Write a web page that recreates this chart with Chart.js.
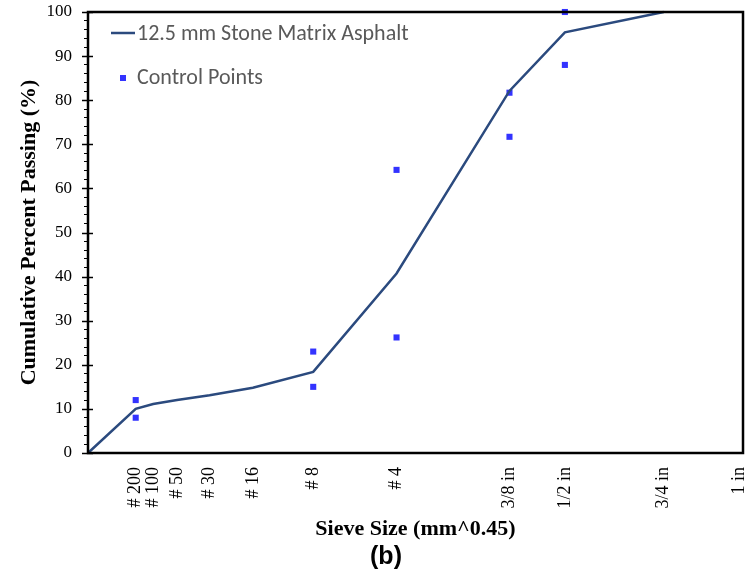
<!DOCTYPE html>
<html lang="en">
<head>
    <meta charset="UTF-8">
    <title>Gradation Chart (b)</title>
    <script src="https://cdn.jsdelivr.net/npm/chart.js"></script>
    <style>
        html, body {
            margin: 0;
            padding: 0;
            background: #ffffff;
        }
        #gradationChart {
            display: block;
        }
    </style>
</head>
<body>
    <canvas id="gradationChart" width="748" height="584"></canvas>

    <script>
        // Sieve sizes (mm) and their tick labels
        const sieveMm = [0.075, 0.15, 0.3, 0.6, 1.18, 2.36, 4.75, 9.5, 12.5, 19, 25];
        const sieveLabels = ['# 200', '# 100', '# 50', '# 30', '# 16', '# 8', '# 4', '3/8 in', '1/2 in', '3/4 in', '1 in'];

        // 12.5 mm SMA gradation
        const gradationMm = [0, 0.075, 0.15, 0.3, 0.6, 1.18, 2.36, 4.75, 9.5, 12.5, 19];
        const gradationPassing = [0, 10.0, 11.1, 12.0, 13.1, 14.8, 18.4, 40.7, 82.1, 95.4, 100];

        // Control points (upper / lower limits)
        const controlMm = [0.075, 0.075, 2.36, 2.36, 4.75, 4.75, 9.5, 9.5, 12.5, 12.5];
        const controlPassing = [12, 8, 23, 15, 64.2, 26.2, 81.7, 71.7, 100, 88];

        const power = 0.45;
        const toX = mm => Math.pow(mm, power);

        const serif = "'Liberation Serif', 'Times New Roman', serif";
        const legendFont = "Carlito, 'Open Sans', 'Noto Sans', sans-serif";

        // Plot box, major ticks that cross the axis, legend and caption
        const extrasPlugin = {
            id: 'extras',
            afterDraw(chart) {
                const ctx = chart.ctx;
                const area = chart.chartArea;
                const yScale = chart.scales.y;
                ctx.save();

                // major y ticks crossing the axis line
                ctx.strokeStyle = '#000';
                ctx.lineWidth = 1.5;
                for (let v = 0; v <= 100; v += 10) {
                    const py = Math.round(yScale.getPixelForValue(v)) + 0.5;
                    ctx.beginPath();
                    ctx.moveTo(area.left - 6, py);
                    ctx.lineTo(area.left + 5, py);
                    ctx.stroke();
                }

                // plot box
                ctx.lineWidth = 2.5;
                ctx.strokeRect(area.left, area.top, area.right - area.left, area.bottom - area.top);

                // legend
                const lineDs = chart.data.datasets[0];
                const ptDs = chart.data.datasets[1];
                ctx.strokeStyle = lineDs.borderColor;
                ctx.lineWidth = lineDs.borderWidth;
                ctx.beginPath();
                ctx.moveTo(111, 33);
                ctx.lineTo(135, 33);
                ctx.stroke();
                ctx.fillStyle = ptDs.backgroundColor;
                ctx.fillRect(120, 75, 6, 6);

                ctx.fillStyle = '#595959';
                ctx.font = '22px ' + legendFont;
                ctx.textAlign = 'left';
                ctx.textBaseline = 'middle';
                ctx.fillText(lineDs.label, 137, 34);
                ctx.fillText(ptDs.label, 137, 78);

                // caption
                ctx.fillStyle = '#000';
                ctx.font = "bold 25px 'Liberation Sans', Arial, sans-serif";
                ctx.textAlign = 'center';
                ctx.fillText('(b)', 386, 557);
                ctx.restore();
            }
        };

        const ctx = document.getElementById('gradationChart').getContext('2d');
        const chart = new Chart(ctx, {
            type: 'scatter',
            data: {
                datasets: [{
                    label: '12.5 mm Stone Matrix Asphalt',
                    data: gradationMm.map((mm, i) => ({ x: toX(mm), y: gradationPassing[i] })),
                    showLine: true,
                    borderColor: '#2B4A7E',
                    borderWidth: 2.5,
                    pointRadius: 0,
                    fill: false,
                    clip: false
                }, {
                    label: 'Control Points',
                    data: controlMm.map((mm, i) => ({ x: toX(mm), y: controlPassing[i] })),
                    pointStyle: 'rect',
                    pointRadius: 4.3,
                    pointBorderWidth: 0,
                    backgroundColor: '#3333FF',
                    borderColor: '#3333FF',
                    clip: false
                }]
            },
            options: {
                responsive: false,
                animation: false,
                layout: {
                    padding: { top: 12, right: 5, bottom: 41, left: 0 }
                },
                plugins: {
                    legend: { display: false },
                    tooltip: { enabled: false }
                },
                scales: {
                    x: {
                        type: 'linear',
                        min: 0,
                        max: 4.28,
                        afterBuildTicks: scale => {
                            scale.ticks = sieveMm.map(mm => ({ value: toX(mm) }));
                        },
                        afterFit: scale => {
                            scale.height = 90;
                            scale.paddingLeft = 0;
                            scale.paddingRight = 0;
                        },
                        ticks: {
                            autoSkip: false,
                            minRotation: 90,
                            maxRotation: 90,
                            padding: 14,
                            color: '#000',
                            font: { family: serif, size: 18 },
                            callback: (value, index) => sieveLabels[index]
                        },
                        grid: { display: false, drawTicks: false },
                        border: { display: false },
                        title: {
                            display: true,
                            text: 'Sieve Size (mm^0.45)',
                            color: '#000',
                            padding: 0,
                            font: { family: serif, size: 22, weight: 'bold' }
                        }
                    },
                    y: {
                        min: 0,
                        max: 100,
                        afterFit: scale => {
                            scale.width = 88;
                            scale.paddingTop = 0;
                            scale.paddingBottom = 0;
                        },
                        ticks: {
                            stepSize: 2,
                            autoSkip: false,
                            padding: 12,
                            color: '#000',
                            font: { family: serif, size: 17 },
                            callback: value => (value % 10 === 0 ? value : '')
                        },
                        grid: {
                            drawOnChartArea: false,
                            drawTicks: true,
                            tickLength: 4,
                            tickWidth: 1,
                            tickColor: c => (c.tick && c.tick.value % 10 === 0 ? 'rgba(0,0,0,0)' : '#000')
                        },
                        border: { display: false },
                        title: {
                            display: true,
                            text: 'Cumulative Percent Passing (%)',
                            color: '#000',
                            padding: { top: 16, bottom: 0 },
                            font: { family: serif, size: 22, weight: 'bold' }
                        }
                    }
                }
            },
            plugins: [extrasPlugin]
        });
    </script>
</body>
</html>
